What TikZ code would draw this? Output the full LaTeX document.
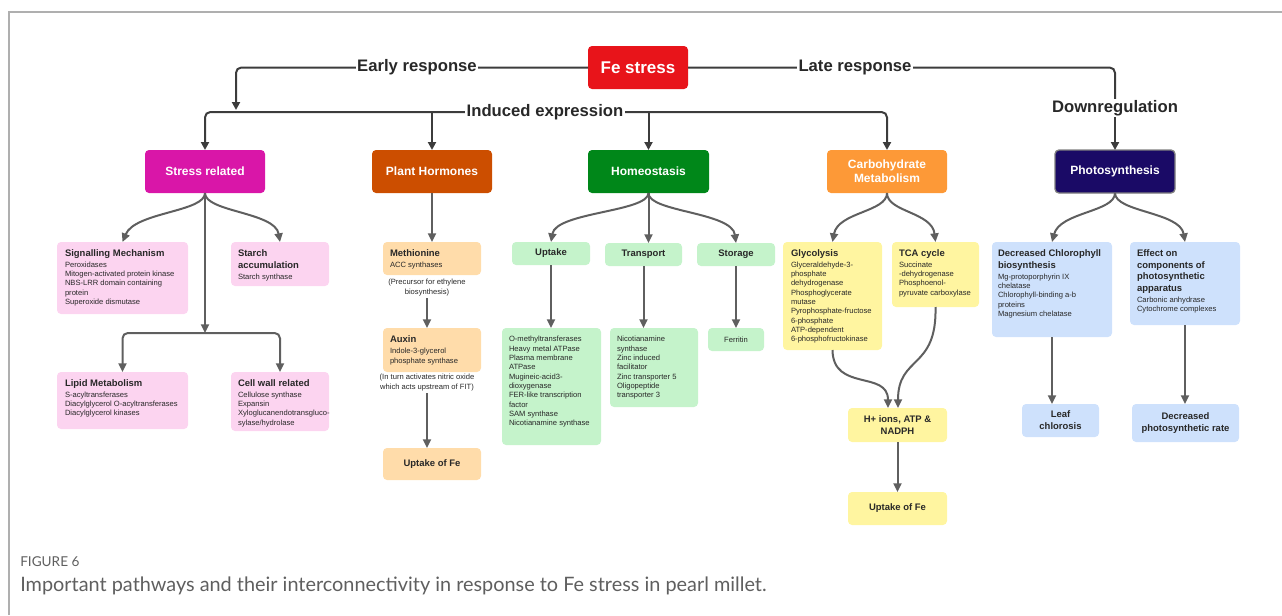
\documentclass[tikz,border=0pt]{standalone}
\usepackage{fontspec}
\setmainfont{Liberation Sans}
\newfontfamily\capfont{Lato}
\usetikzlibrary{arrows.meta}
\definecolor{fered}{RGB}{232,20,26}
\definecolor{stressc}{RGB}{217,22,168}
\definecolor{hormc}{RGB}{204,78,0}
\definecolor{homeoc}{RGB}{0,135,25}
\definecolor{carbc}{RGB}{253,153,55}
\definecolor{photoc}{RGB}{26,10,102}
\definecolor{pinkc}{RGB}{252,212,240}
\definecolor{peachc}{RGB}{255,220,170}
\definecolor{greenc}{RGB}{197,243,203}
\definecolor{yellowc}{RGB}{255,245,160}
\definecolor{bluec}{RGB}{206,225,252}
\definecolor{linec}{RGB}{60,60,60}
\definecolor{arrc}{RGB}{95,95,95}
\definecolor{txtc}{RGB}{40,40,40}
\definecolor{framec}{RGB}{175,175,175}
\definecolor{capc}{RGB}{95,95,95}
\newcommand\bx[7]{\node[#6, minimum width={(#4-#2)*0.75pt}, minimum height={(#5-#3)*0.75pt}] (#1) at ({(#2+#4)/2},{(#3+#5)/2}) {#7};}
\newcommand\hd[1]{{\bfseries\fontsize{7.1}{7}\selectfont #1}}
\tikzset{
  base/.style={rounded corners=3pt, inner sep=0pt, outer sep=0pt, align=center},
  mainbox/.style={base, text=white, font=\bfseries\fontsize{9}{10.5}\selectfont},
  febox/.style={base, fill=fered, text=white, font=\bfseries\fontsize{12.75}{14}\selectfont},
  pinkbox/.style={base, fill=pinkc},
  peachbox/.style={base, fill=peachc, text=txtc, font=\bfseries\fontsize{7.1}{9}\selectfont},
  greenbox/.style={base, fill=greenc, text=txtc, font=\bfseries\fontsize{7.1}{9}\selectfont},
  yellowbox/.style={base, fill=yellowc, text=txtc, font=\bfseries\fontsize{7.1}{9}\selectfont},
  bluebox/.style={base, fill=bluec, text=txtc, font=\bfseries\fontsize{7.1}{9}\selectfont},
  body/.style={anchor=north west, inner sep=0pt, outer sep=0pt, align=left, text=txtc, font=\fontsize{5.7}{7}\selectfont},
  note/.style={anchor=north, inner sep=0pt, outer sep=0pt, align=center, text=txtc, font=\fontsize{5.7}{7.5}\selectfont},
  lbl/.style={fill=white, inner sep=1pt, text=txtc, font=\bfseries\fontsize{12.5}{14}\selectfont},
  conn/.style={draw=linec, line width=1.5pt},
  arr/.style={conn, -{Triangle[length=6pt,width=6pt]}},
  arr2/.style={draw=arrc, line width=1.5pt, -{Triangle[length=6.5pt,width=6pt]}},
}
\begin{document}
\begin{tikzpicture}[x=0.75pt,y=-0.75pt]
\useasboundingbox (0,0) rectangle (1282,615);
% frame
\draw[framec, line width=1.2pt] (9,615) -- (9,12) -- (1282,12);

% main boxes
\bx{fe}{588}{46}{688}{89}{febox}{Fe stress}
\bx{stress}{145}{150}{265}{193}{mainbox,fill=stressc}{Stress related}
\bx{horm}{372}{150}{492}{193}{mainbox,fill=hormc}{Plant Hormones}
\bx{homeo}{588}{150}{709}{193}{mainbox,fill=homeoc}{Homeostasis}
\bx{carb}{827}{150}{947}{193}{mainbox,fill=carbc}{Carbohydrate\\Metabolism}
\bx{photo}{1055}{150}{1175}{193}{mainbox,fill=photoc,draw=gray,line width=1pt}{Photosynthesis}

% top connectors
\coordinate (eA) at (236,110);
\coordinate (iC) at (545,112);
\coordinate (dA) at (1115,108);
\draw[arr, rounded corners=4pt] (fe.west) -| (eA);
\draw[conn, rounded corners=4pt] (fe.east) -| (dA);
\draw[arr, rounded corners=4pt] (iC) -| (stress.north);
\draw[arr, rounded corners=4pt] (iC) -| (carb.north);
\draw[arr] (iC -| horm.north) -- (horm.north);
\draw[arr] (iC -| homeo.north) -- (homeo.north);
\node[lbl] (early) at (417,67) {Early response};
\node[lbl] (late) at (855,67) {Late response};
\node[lbl] (induced) at (iC) {Induced expression};
\node[lbl] (down) at (dA) {Downregulation};
\draw[arr] (down.south) -- (photo.north);

% ---- Stress related
\bx{sig}{57}{242}{188}{314}{pinkbox}{}
\node[body] (sigT) at (65,249.5) {\hd{Signalling Mechanism}\\[1.1pt]Peroxidases\\Mitogen-activated protein kinase\\NBS-LRR domain containing\\protein\\Superoxide dismutase};
\bx{starch}{231}{242}{329}{286}{pinkbox}{}
\node[body] (starchT) at (238,249.5) {\hd{Starch}\\[1.8pt]\hd{accumulation}\\[1.4pt]Starch synthase};
\bx{lipid}{57}{372}{188}{429}{pinkbox}{}
\node[body] (lipidT) at (65,379.5) {\hd{Lipid Metabolism}\\[1.1pt]S-acyltransferases\\Diacylglycerol O-acyltransferases\\Diacylglycerol kinases};
\bx{cell}{231}{372}{329}{431}{pinkbox}{}
\node[body] (cellT) at (238,379.5) {\hd{Cell wall related}\\[1.1pt]Cellulose synthase\\Expansin\\Xyloglucanendotransgluco-\\sylase/hydrolase};
\coordinate (sB) at (205,333);
\draw[arr2] (stress.south) .. controls (205,212) and (135,212) .. (sig.north);
\draw[arr2] (stress.south) .. controls (205,212) and (275,212) .. (starch.north);
\draw[arr2] (stress.south) -- (sB);
\draw[arr2, rounded corners=4pt] (sB) -| (lipid.north);
\draw[arr2, rounded corners=4pt] (sB) -| (cell.north);

% ---- Plant hormones
\bx{meth}{383}{242}{481}{275}{peachbox}{}
\node[body] (methT) at (390,249.5) {\hd{Methionine}\\[1.1pt]ACC synthases};
\node[note] (note1) at (427,279) {(Precursor for ethylene\\biosynthesis)};
\bx{aux}{383}{328}{481}{372}{peachbox}{}
\node[body] (auxT) at (390,335.5) {\hd{Auxin}\\[1.6pt]Indole-3-glycerol\\phosphate synthase};
\node[note] (note2) at (427,374) {(In turn activates nitric oxide\\which acts upstream of FIT)};
\bx{upfe1}{383}{448}{481}{480}{peachbox}{Uptake of Fe}
\draw[arr2] (horm.south) -- (meth.north);
\draw[arr2] ([yshift=-1.5pt]note1.south) -- (note1.south |- aux.north);
\draw[arr2] ([yshift=-1.5pt]note2.south) -- (note2.south |- upfe1.north);

% ---- Homeostasis
\bx{upt}{512}{242}{590}{265}{greenbox}{Uptake}
\bx{trans}{605}{243}{682}{266}{greenbox}{Transport}
\bx{stor}{697}{243}{775}{266}{greenbox}{Storage}
\bx{omet}{502}{328}{601}{445}{greenbox}{}
\node[body] (ometT) at (509,336.3) {O-methyltransferases\\Heavy metal ATPase\\Plasma membrane\\ATPase\\Mugineic-acid3-\\dioxygenase\\FER-like transcription\\factor\\SAM synthase\\Nicotianamine synthase};
\bx{nico}{610}{328}{698}{407}{greenbox}{}
\node[body] (nicoT) at (617,336.3) {Nicotianamine\\synthase\\Zinc induced\\facilitator\\Zinc transporter 5\\Oligopeptide\\transporter 3};
\bx{ferr}{708}{328}{764}{351}{greenbox,font=\fontsize{5.7}{7}\selectfont}{Ferritin}
\draw[arr2] (homeo.south) .. controls (648,212) and (556,212) .. (upt.north);
\draw[arr2] (homeo.south) -- (homeo.south |- trans.north);
\draw[arr2] (homeo.south) .. controls (648,212) and (732,212) .. (stor.north);
\draw[arr2] (upt.south) -- (upt.south |- omet.north);
\draw[arr2] (trans.south) -- (trans.south |- nico.north);
\draw[arr2] (stor.south) -- (ferr.north);

% ---- Carbohydrate
\bx{gly}{783}{242}{882}{350}{yellowbox}{}
\node[body] (glyT) at (791,249.5) {\hd{Glycolysis}\\[1.1pt]Glyceraldehyde-3-\\phosphate\\dehydrogenase\\Phosphoglycerate\\mutase\\Pyrophosphate-fructose\\6-phosphate\\ATP-dependent\\6-phosphofructokinase};
\bx{tca}{892}{242}{979}{307}{yellowbox}{}
\node[body] (tcaT) at (899,249.5) {\hd{TCA cycle}\\[1.1pt]Succinate\\-dehydrogenase\\Phosphoenol-\\pyruvate carboxylase};
\bx{hion}{848}{408}{947}{442}{yellowbox}{H+ ions, ATP \&\\NADPH}
\bx{upfe2}{848}{492}{947}{525}{yellowbox}{Uptake of Fe}
\coordinate (hL) at (888,408);
\coordinate (hR) at (898,408);
\draw[arr2] (carb.south) .. controls (887,212) and (838,212) .. (gly.north);
\draw[arr2] (carb.south) .. controls (887,212) and (932,212) .. (tca.north);
\draw[arr2] (gly.south) .. controls (833,392) and (888,370) .. (hL);
\draw[arr2] (tca.south) .. controls (937,370) and (898,355) .. (hR);
\draw[arr2] (hion.south) -- (upfe2.north);

% ---- Photosynthesis
\bx{chl}{992}{242}{1112}{337}{bluebox}{}
\node[body] (chlT) at (998,249.5) {\hd{Decreased Chlorophyll}\\[1.8pt]\hd{biosynthesis}\\[1.2pt]Mg-protoporphyrin IX\\chelatase\\Chlorophyll-binding a-b\\proteins\\Magnesium chelatase};
\bx{eff}{1130}{242}{1240}{325}{bluebox}{}
\node[body] (effT) at (1137,249.5) {\hd{Effect on}\\[1.8pt]\hd{components of}\\[1.8pt]\hd{photosynthetic}\\[1.8pt]\hd{apparatus}\\[1.2pt]Carbonic anhydrase\\Cytochrome complexes};
\bx{leaf}{1022}{404}{1099}{437}{bluebox}{Leaf\\chlorosis}
\bx{rate}{1132}{404}{1239}{442}{bluebox}{Decreased\\photosynthetic rate}
\draw[arr2] (photo.south) .. controls (1115,212) and (1060,212) .. (chl.north);
\draw[arr2] (photo.south) .. controls (1115,212) and (1180,212) .. (eff.north);
\draw[arr2] (chl.south) -- (chl.south |- leaf.north);
\draw[arr2] (eff.south) -- (eff.south |- rate.north);

% caption
\node[anchor=base west, inner sep=0pt, text=capc, font=\capfont\fontsize{10.2}{12}\selectfont] (fig) at (20,566.5) {FIGURE 6};
\node[anchor=base west, inner sep=0pt, text=capc, font=\capfont\fontsize{14.9}{17}\selectfont] (cap) at (20,591) {Important pathways and their interconnectivity in response to Fe stress in pearl millet.};
\end{tikzpicture}
\end{document}
